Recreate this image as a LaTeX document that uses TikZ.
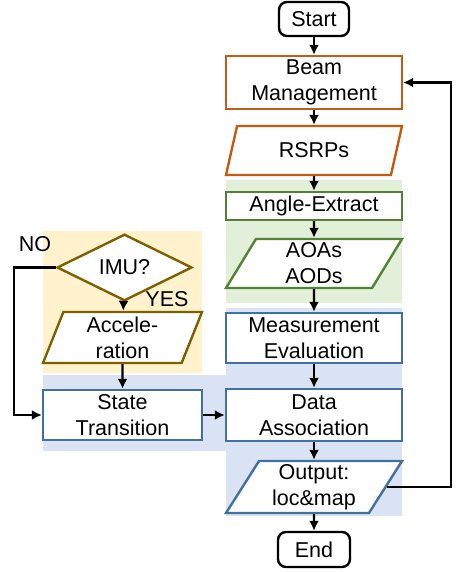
\documentclass[tikz,border=0pt]{standalone}
\usepackage{fontspec}
\setmainfont{Liberation Sans}
\usetikzlibrary{shapes.geometric,arrows.meta}

\definecolor{beamorange}{HTML}{C55A11}
\definecolor{anglegreen}{HTML}{548235}
\definecolor{imuolive}{HTML}{7F6000}
\definecolor{trackblue}{HTML}{41719C}
\definecolor{bggreen}{HTML}{E2F0D9}
\definecolor{bgyellow}{HTML}{FFF2CC}
\definecolor{bgblue}{HTML}{DAE3F3}

\begin{document}
\begin{tikzpicture}[x=1pt,y=1pt,
    every node/.style={font=\fontsize{21.5}{26}\selectfont, align=center, inner sep=0pt},
    procbox/.style={draw, fill=white, line width=2.4pt, minimum width=176pt},
    databox/.style={draw, fill=white, line width=2.4pt, trapezium, trapezium stretches body,
        trapezium left angle=54, trapezium right angle=126, minimum width=176pt, minimum height=49pt},
    termbox/.style={draw, fill=white, line width=2.4pt, rounded corners=8pt, minimum width=70pt, minimum height=34pt},
    flow/.style={line width=2.4pt, -{Latex[length=10pt,width=10pt]}}]

    \useasboundingbox (0,0) rectangle (456,-572);

    % shaded groups
    \fill[bggreen] (226,-180) rectangle (402,-303);
    \fill[bgyellow] (43,-231) rectangle (202,-373);
    \fill[bgblue] (226,-308) rectangle (402,-516);
    \fill[bgblue] (43,-375) rectangle (226,-451);

    \node[termbox] at (314,-19) (start) {Start};
    \node[procbox, draw=beamorange, minimum height=53pt] at (314,-82.5) (beam) {Beam\\Management};
    \node[databox, draw=beamorange] at (314,-150.5) (rsrp) {RSRPs};
    \node[procbox, draw=anglegreen, minimum height=28pt] at (314,-206) (angle) {Angle-Extract};
    \node[databox, draw=anglegreen] at (314,-263.5) (aoa) {AOAs\\AODs};
    \node[procbox, draw=trackblue, minimum height=50pt] at (314,-338) (meas) {Measurement\\Evaluation};
    \node[procbox, draw=trackblue, minimum height=52pt] at (314,-415) (assoc) {Data\\Association};
    \node[databox, draw=trackblue, minimum height=52pt] at (314,-487) (out) {Output:\\loc\&map};
    \node[termbox, minimum width=72pt, minimum height=35pt] at (314,-549.5) (finish) {End};

    \node[draw=imuolive, fill=white, line width=2.4pt, diamond, minimum width=135pt, minimum height=41pt] at (124.5,-267.5) (imu) {IMU?};
    \node[databox, draw=imuolive, trapezium left angle=64, trapezium right angle=116,
        minimum width=159pt, minimum height=51pt] at (122.5,-337.5) (accel) {Accele-\\ration};
    \node[procbox, draw=trackblue, minimum width=159pt, minimum height=50pt] at (122.5,-415) (state) {State\\Transition};

    \node at (35,-244) (no) {NO};
    \node at (167,-299) (yes) {YES};

    \coordinate (noturn) at (14,-267.5);
    \coordinate (loopx) at (451,0);

    \draw[flow] (start) -- (beam);
    \draw[flow] (beam) -- (rsrp);
    \draw[flow] (rsrp) -- (angle);
    \draw[flow] (angle) -- (aoa);
    \draw[flow] (aoa) -- (meas);
    \draw[flow] (meas) -- (assoc);
    \draw[flow] (assoc) -- (out);
    \draw[flow] (out) -- (finish);
    \draw[flow] (imu) -- (accel);
    \draw[flow] (accel) -- (state);
    \draw[flow] (state) -- (assoc);
    \draw[flow] (imu.west) -- (noturn) |- (state.west);
    \draw[flow] (out.east) -- (out.east -| loopx) |- (beam.east);

\end{tikzpicture}
\end{document}
